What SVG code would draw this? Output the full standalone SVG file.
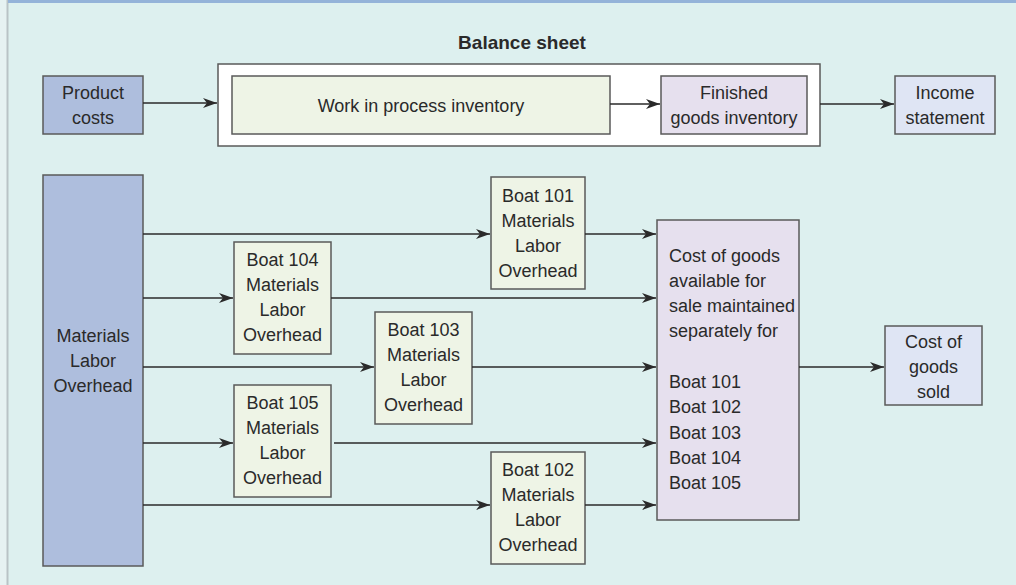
<svg xmlns="http://www.w3.org/2000/svg" width="1016" height="585" viewBox="0 0 1016 585">
<defs>
<marker id="arr" viewBox="0 0 14 10" refX="14" refY="5" markerWidth="14" markerHeight="10" markerUnits="userSpaceOnUse" orient="auto">
<path d="M0,0 L14,5 L0,10 L4,5 Z" fill="#2a2a2a"/>
</marker>
<style>
text{font-family:"Liberation Sans",Arial,sans-serif;font-size:18px;fill:#2a2a2a}
.c{text-anchor:middle}
.b{font-weight:bold;font-size:19px}
.box{stroke:#5a5a5a;stroke-width:1.5}
.blue{fill:#aebedd}
.boat{fill:#eef4e6}
.purple{fill:#e6e0ee}
.inc{fill:#dfe5f4}
.con line{stroke:#2a2a2a;stroke-width:1.6;marker-end:url(#arr)}
</style>
</defs>
<rect width="1016" height="585" fill="#ddf0ef"/>
<rect x="0" y="0" width="7" height="585" fill="#e6f2f2"/>
<rect x="6.5" y="0" width="2" height="585" fill="#b9c3c6"/>
<rect x="8" y="0" width="1008" height="3" fill="#94b3d9"/>

<g id="balance-sheet">
<text class="c b" x="522" y="49">Balance sheet</text>
<rect class="box" x="218" y="64" width="602" height="82" fill="#ffffff"/>
</g>
<g id="product-costs">
<rect class="box blue" x="43" y="76" width="100" height="58"/>
<text class="c" x="93" y="99">Product</text>
<text class="c" x="93" y="124">costs</text>
</g>
<g id="wip">
<rect class="box boat" x="232" y="76" width="378" height="58"/>
<text class="c" x="421" y="112">Work in process inventory</text>
</g>
<g id="finished">
<rect class="box purple" x="661" y="76" width="146" height="58"/>
<text class="c" x="734" y="99">Finished</text>
<text class="c" x="734" y="124">goods inventory</text>
</g>
<g id="income">
<rect class="box inc" x="895" y="76" width="100" height="58"/>
<text class="c" x="945" y="99">Income</text>
<text class="c" x="945" y="124">statement</text>
</g>

<g id="mlo">
<rect class="box blue" x="43" y="175" width="100" height="391"/>
<text class="c" x="93" y="342">Materials</text>
<text class="c" x="93" y="367">Labor</text>
<text class="c" x="93" y="392">Overhead</text>
</g>
<g id="boat101">
<rect class="box boat" x="491" y="177" width="94" height="112"/>
<text class="c" x="538" y="202">Boat 101</text>
<text class="c" x="538" y="227">Materials</text>
<text class="c" x="538" y="252">Labor</text>
<text class="c" x="538" y="277">Overhead</text>
</g>
<g id="boat104">
<rect class="box boat" x="234" y="242" width="97" height="112"/>
<text class="c" x="282.5" y="266">Boat 104</text>
<text class="c" x="282.5" y="291">Materials</text>
<text class="c" x="282.5" y="316">Labor</text>
<text class="c" x="282.5" y="341">Overhead</text>
</g>
<g id="boat103">
<rect class="box boat" x="375" y="312" width="97" height="112"/>
<text class="c" x="423.5" y="336">Boat 103</text>
<text class="c" x="423.5" y="361">Materials</text>
<text class="c" x="423.5" y="386">Labor</text>
<text class="c" x="423.5" y="411">Overhead</text>
</g>
<g id="boat105">
<rect class="box boat" x="234" y="385" width="97" height="112"/>
<text class="c" x="282.5" y="409">Boat 105</text>
<text class="c" x="282.5" y="434">Materials</text>
<text class="c" x="282.5" y="459">Labor</text>
<text class="c" x="282.5" y="484">Overhead</text>
</g>
<g id="boat102">
<rect class="box boat" x="491" y="452" width="94" height="112"/>
<text class="c" x="538" y="476">Boat 102</text>
<text class="c" x="538" y="501">Materials</text>
<text class="c" x="538" y="526">Labor</text>
<text class="c" x="538" y="551">Overhead</text>
</g>
<g id="cogas">
<rect class="box purple" x="657" y="220" width="142" height="300"/>
<text x="669" y="262">Cost of goods</text>
<text x="669" y="287">available for</text>
<text x="669" y="312">sale maintained</text>
<text x="669" y="337">separately for</text>
<text x="669" y="388">Boat 101</text>
<text x="669" y="413">Boat 102</text>
<text x="669" y="439">Boat 103</text>
<text x="669" y="464">Boat 104</text>
<text x="669" y="489">Boat 105</text>
</g>
<g id="cogs">
<rect class="box inc" x="885" y="326" width="97" height="79"/>
<text class="c" x="933.5" y="348">Cost of</text>
<text class="c" x="933.5" y="373">goods</text>
<text class="c" x="933.5" y="398">sold</text>
</g>

<g id="connectors" class="con">
<line x1="143" y1="103" x2="217" y2="103"/>
<line x1="610" y1="104" x2="660" y2="104"/>
<line x1="820" y1="104" x2="894" y2="104"/>
<line x1="143" y1="234" x2="490" y2="234"/>
<line x1="143" y1="298" x2="233" y2="298"/>
<line x1="143" y1="367" x2="374" y2="367"/>
<line x1="143" y1="443" x2="233" y2="443"/>
<line x1="143" y1="505" x2="490" y2="505"/>
<line x1="585" y1="234" x2="656" y2="234"/>
<line x1="331" y1="298" x2="656" y2="298"/>
<line x1="472" y1="367" x2="656" y2="367"/>
<line x1="334" y1="443" x2="656" y2="443"/>
<line x1="585" y1="505" x2="656" y2="505"/>
<line x1="799" y1="367" x2="884" y2="367"/>
</g>
</svg>
